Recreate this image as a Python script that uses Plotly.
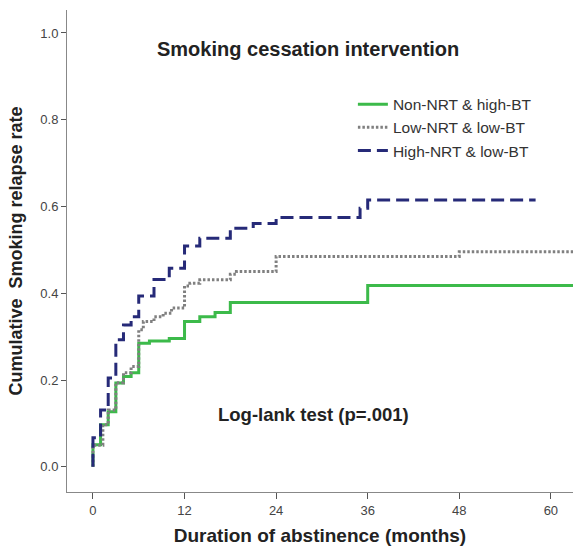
import plotly.graph_objects as go

# Data (months, cumulative relapse rate)
green_t = [0, 0, 1, 2, 3, 4, 5, 6, 7.4, 10, 12, 14, 16, 18, 36, 63]
green_v = [0, 0.051, 0.097, 0.127, 0.193, 0.208, 0.217, 0.285, 0.290, 0.296, 0.335, 0.346, 0.356, 0.379, 0.418, 0.418]

gray_t = [0, 0, 1.3, 2, 3, 4, 5, 6, 6.6, 8, 9.2, 10.3, 12, 12.7, 14, 18, 18.8, 24, 48, 63]
gray_v = [0, 0.05, 0.097, 0.131, 0.194, 0.217, 0.231, 0.316, 0.335, 0.346, 0.354, 0.366, 0.417, 0.423, 0.431, 0.444, 0.450, 0.485, 0.496, 0.496]

blue_t = [0, 0, 1, 2, 3, 4, 5, 6, 8, 10, 12, 14, 18, 21, 24, 35, 36, 58]
blue_v = [0, 0.067, 0.131, 0.205, 0.293, 0.327, 0.346, 0.394, 0.432, 0.458, 0.509, 0.527, 0.550, 0.561, 0.575, 0.596, 0.615, 0.615]

series_names = ["Non-NRT & high-BT", "Low-NRT & low-BT", "High-NRT & low-BT"]
x_ticks = [0, 12, 24, 36, 48, 60]
y_ticks = [0.0, 0.2, 0.4, 0.6, 0.8, 1.0]

FONT = "Liberation Sans, Arial, sans-serif"

fig = go.Figure()
fig.add_trace(go.Scatter(x=green_t, y=green_v, mode="lines", line_shape="hv",
                         name=series_names[0],
                         line=dict(color="#3cba4a", width=3)))
fig.add_trace(go.Scatter(x=gray_t, y=gray_v, mode="lines", line_shape="hv",
                         name=series_names[1],
                         line=dict(color="#808080", width=3, dash="2.5px,2px")))
fig.add_trace(go.Scatter(x=blue_t, y=blue_v, mode="lines", line_shape="hv",
                         name=series_names[2],
                         line=dict(color="#262a78", width=3, dash="13px,6px")))

fig.update_layout(
    width=573, height=546,
    margin=dict(l=67, r=0, t=10, b=54),
    paper_bgcolor="white", plot_bgcolor="white",
    font=dict(family=FONT, color="#333333"),
    showlegend=True,
    legend=dict(x=0.565, y=0.839, xanchor="left", yanchor="top",
                bgcolor="rgba(0,0,0,0)", font=dict(size=15.5, color="#333333"),
                tracegroupgap=0, itemwidth=30),
    xaxis=dict(range=[-3.4, 62.9], tickvals=x_ticks, ticks="outside", ticklen=6,
               tickcolor="#555555", showline=True, linecolor="#888888", linewidth=1,
               showgrid=False, zeroline=False, automargin=False,
               tickfont=dict(size=13, color="#444444"),
               title=dict(text="<b>Duration of abstinence (months)</b>",
                          font=dict(size=19, color="#222222"), standoff=13)),
    yaxis=dict(range=[-0.058, 1.053], tickvals=y_ticks, tickformat=".1f",
               ticks="outside", ticklen=5, tickcolor="#555555",
               showline=True, linecolor="#888888", linewidth=1,
               showgrid=False, zeroline=False, automargin=False,
               tickfont=dict(size=13, color="#444444"),
               title=dict(text="<b>Cumulative  Smoking relapse rate</b>",
                          font=dict(size=18, color="#222222"), standoff=13)),
    annotations=[
        dict(text="<b>Smoking cessation intervention</b>", x=0.476, y=0.919,
             xref="paper", yref="paper", showarrow=False,
             xanchor="center", yanchor="middle",
             font=dict(size=20, color="#222222")),
        dict(text="<b>Log-lank test (p=.001)</b>", x=0.488, y=0.160,
             xref="paper", yref="paper", showarrow=False,
             xanchor="center", yanchor="middle",
             font=dict(size=18.5, color="#222222")),
    ],
)

# remove the default page margin so the 573x546 figure fills the window exactly
fig.write_html("out.html",
               config={"displayModeBar": False},
               post_script="document.body.style.margin='0';document.body.style.overflow='hidden';")
